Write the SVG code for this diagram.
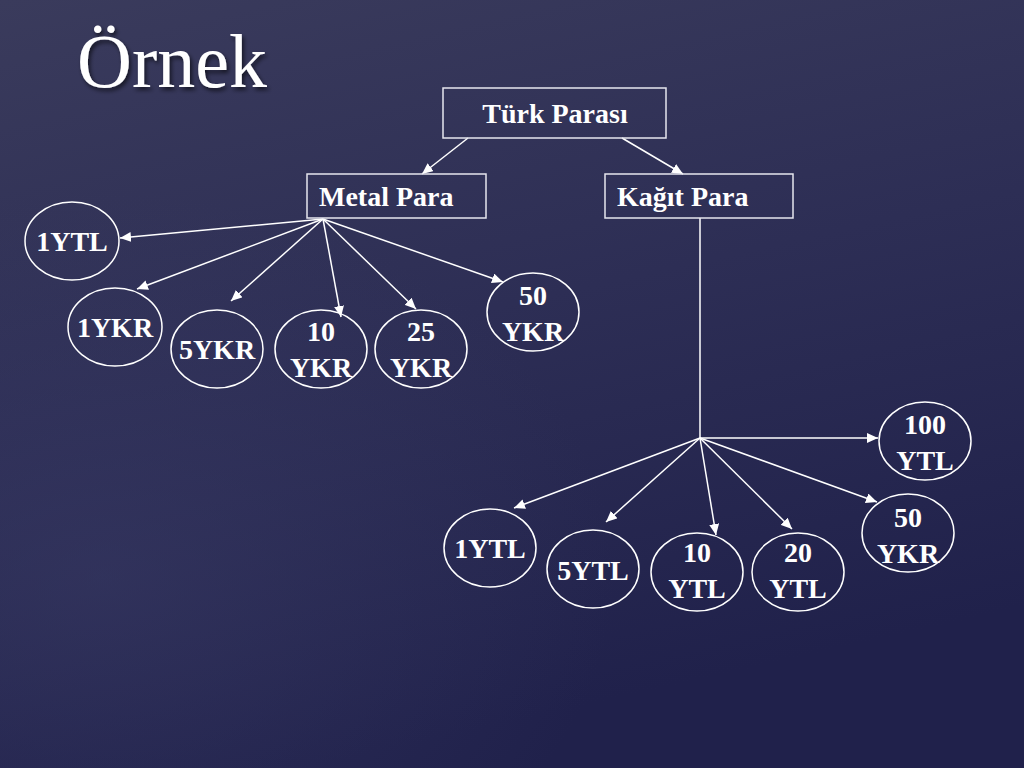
<svg xmlns="http://www.w3.org/2000/svg" width="1024" height="768" viewBox="0 0 1024 768">
<defs>
<linearGradient id="bg" x1="0" y1="0" x2="0.3" y2="1">
<stop offset="0" stop-color="#3a3b5c"/>
<stop offset="0.5" stop-color="#2d2e55"/>
<stop offset="1" stop-color="#20214b"/>
</linearGradient>
<radialGradient id="glow" cx="0.1" cy="0.75" r="0.5">
<stop offset="0" stop-color="#3a3c66" stop-opacity="0.5"/>
<stop offset="1" stop-color="#3a3c66" stop-opacity="0"/>
</radialGradient>
<filter id="sh" x="-10%" y="-10%" width="130%" height="140%">
<feDropShadow dx="2" dy="3" stdDeviation="2" flood-color="#000" flood-opacity="0.6"/>
</filter>
<marker id="ah" markerUnits="userSpaceOnUse" markerWidth="12" markerHeight="10" refX="11" refY="5" orient="auto">
<path d="M0,0 L11,5 L0,10 z" fill="#ffffff"/>
</marker>
</defs>
<style>
.lbl{font-family:"Liberation Serif","Times New Roman",serif;font-weight:bold;font-size:28px;fill:#ffffff;text-anchor:middle}
.box{fill:none;stroke:#e6e6ee;stroke-width:1.5}
.ell{fill:none;stroke:#ffffff;stroke-width:1.5}
.con{stroke:#ffffff;stroke-width:1.5;fill:none}
.arr{marker-end:url(#ah)}
</style>
<rect width="1024" height="768" fill="url(#bg)"/>
<rect width="1024" height="768" fill="url(#glow)"/>
<text x="77" y="87" font-family="Liberation Serif, serif" font-size="76" fill="#ffffff" filter="url(#sh)">Örnek</text>

<g id="connectors">
<line class="con arr" x1="468" y1="138" x2="422" y2="174"/>
<line class="con arr" x1="622" y1="138" x2="683" y2="174"/>
<line class="con arr" x1="323" y1="219" x2="120" y2="238"/>
<line class="con arr" x1="323" y1="219" x2="137" y2="289"/>
<line class="con arr" x1="323" y1="219" x2="231" y2="301"/>
<line class="con arr" x1="323" y1="219" x2="341" y2="317"/>
<line class="con arr" x1="323" y1="219" x2="416" y2="309"/>
<line class="con arr" x1="323" y1="219" x2="503" y2="282"/>
<line class="con" x1="700" y1="218" x2="700" y2="438"/>
<line class="con arr" x1="700" y1="438" x2="878" y2="438"/>
<line class="con arr" x1="700" y1="438" x2="514" y2="508"/>
<line class="con arr" x1="700" y1="438" x2="606" y2="522"/>
<line class="con arr" x1="700" y1="438" x2="716" y2="535"/>
<line class="con arr" x1="700" y1="438" x2="792" y2="529"/>
<line class="con arr" x1="700" y1="438" x2="877" y2="502"/>
</g>

<g id="turk-parasi"><rect class="box" x="443" y="88" width="223" height="50"/><text class="lbl" x="555" y="123">Türk Parası</text></g>
<g id="metal-para"><rect class="box" x="307" y="174" width="179" height="44"/><text class="lbl" x="319" y="206" style="text-anchor:start">Metal Para</text></g>
<g id="kagit-para"><rect class="box" x="605" y="174" width="188" height="44"/><text class="lbl" x="617" y="206" style="text-anchor:start">Kağıt Para</text></g>

<g id="m-1ytl"><ellipse class="ell" cx="72" cy="241" rx="47" ry="39"/><text class="lbl" x="72" y="251">1YTL</text></g>
<g id="m-1ykr"><ellipse class="ell" cx="115" cy="327" rx="47" ry="39"/><text class="lbl" x="115" y="337">1YKR</text></g>
<g id="m-5ykr"><ellipse class="ell" cx="217" cy="349" rx="46" ry="39"/><text class="lbl" x="217" y="359">5YKR</text></g>
<g id="m-10ykr"><ellipse class="ell" cx="321" cy="349" rx="46" ry="39"/><text class="lbl" x="321" y="341">10</text><text class="lbl" x="321" y="377">YKR</text></g>
<g id="m-25ykr"><ellipse class="ell" cx="421" cy="349" rx="46" ry="39"/><text class="lbl" x="421" y="341">25</text><text class="lbl" x="421" y="377">YKR</text></g>
<g id="m-50ykr"><ellipse class="ell" cx="533" cy="312" rx="46" ry="39"/><text class="lbl" x="533" y="305">50</text><text class="lbl" x="533" y="341">YKR</text></g>

<g id="k-100ytl"><ellipse class="ell" cx="925" cy="441" rx="46" ry="39"/><text class="lbl" x="925" y="434">100</text><text class="lbl" x="925" y="470">YTL</text></g>
<g id="k-50ykr"><ellipse class="ell" cx="908" cy="533" rx="46" ry="39"/><text class="lbl" x="908" y="527">50</text><text class="lbl" x="908" y="563">YKR</text></g>
<g id="k-1ytl"><ellipse class="ell" cx="490" cy="548" rx="46" ry="39"/><text class="lbl" x="490" y="558">1YTL</text></g>
<g id="k-5ytl"><ellipse class="ell" cx="593" cy="569" rx="46" ry="39"/><text class="lbl" x="593" y="580">5YTL</text></g>
<g id="k-10ytl"><ellipse class="ell" cx="697" cy="572" rx="46" ry="39"/><text class="lbl" x="697" y="562">10</text><text class="lbl" x="697" y="598">YTL</text></g>
<g id="k-20ytl"><ellipse class="ell" cx="798" cy="572" rx="46" ry="39"/><text class="lbl" x="798" y="562">20</text><text class="lbl" x="798" y="598">YTL</text></g>
</svg>
